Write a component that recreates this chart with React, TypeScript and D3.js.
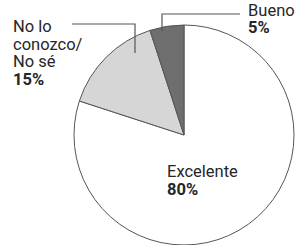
import React from 'react';
import * as d3 from 'd3';

const categories = ['Excelente', 'No lo conozco/ No sé', 'Bueno'];
const values = [80, 15, 5];
const labels = ['80%', '15%', '5%'];
const colors = ['#ffffff', '#d6d6d6', '#6e6e6e'];

const width = 295;
const height = 245;
const cx = 184;
const cy = 135;
const radius = 110;

const App: React.FC = () => {
  const pie = d3
    .pie<number>()
    .sort(null)
    .value((d) => d)
    .startAngle(0)
    .endAngle(2 * Math.PI);
  const arcs = pie(values);
  const arc = d3.arc<d3.PieArcDatum<number>>().innerRadius(0).outerRadius(radius);

  const font = 'Roboto, sans-serif';
  const textColor = '#262626';

  return (
    <svg
      width={width}
      height={height}
      style={{ position: 'absolute', left: 0, top: 0, background: '#fff' }}
    >
      <g transform={`translate(${cx},${cy})`}>
        {arcs.map((a, i) => (
          <path
            key={categories[i]}
            d={arc(a) || ''}
            fill={colors[i]}
            stroke="#555"
            strokeWidth={1}
          />
        ))}
      </g>

      {/* leader lines */}
      <path d="M72,24 H135 V53" fill="none" stroke="#555" strokeWidth={1.2} />
      <path d="M240,14 H162 V31" fill="none" stroke="#555" strokeWidth={1.2} />

      <g fontFamily={font} fontSize={16.5} fill={textColor}>
        <text x={13} y={32}>No lo</text>
        <text x={13} y={49.5}>conozco/</text>
        <text x={13} y={67}>No sé</text>
        <text x={13} y={85} fontWeight="bold">{labels[1]}</text>

        <text x={248} y={16}>{categories[2]}</text>
        <text x={248} y={33} fontWeight="bold">{labels[2]}</text>

        <text x={167} y={177}>{categories[0]}</text>
        <text x={167} y={195} fontWeight="bold">{labels[0]}</text>
      </g>
    </svg>
  );
};

export default App;
